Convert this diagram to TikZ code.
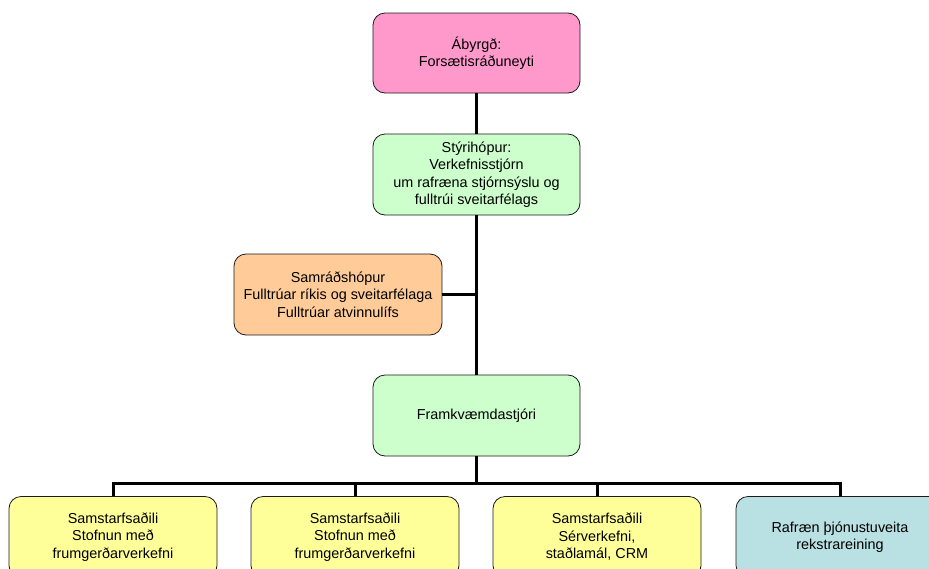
\documentclass[tikz,border=0pt]{standalone}
\usepackage{fontspec}
\setmainfont{Liberation Sans}
\definecolor{cpink}{HTML}{FF99CC}
\definecolor{cgreen}{HTML}{CCFFCC}
\definecolor{corange}{HTML}{FFCC99}
\definecolor{cyellow}{HTML}{FFFF99}
\definecolor{cteal}{HTML}{B9E0E2}
\definecolor{cedge}{HTML}{1A1A1A}
\begin{document}
\begin{tikzpicture}[x=1pt,y=-1pt,
  box/.style={draw=cedge, line width=0.8pt, rounded corners=12pt, minimum width=207pt, minimum height=81pt, align=center, inner sep=2pt, font=\fontsize{14.4}{17.5}\selectfont},
  conn/.style={line width=3pt, draw=black, line join=miter}]
\useasboundingbox (0,0) rectangle (929,568);
\clip (0,0) rectangle (929,568);
\node[box, fill=cpink, minimum height=80pt] (top) at (476.5,53) {Ábyrgð:\\Forsætisráðuneyti};
\node[box, fill=cgreen] (steer) at (476.5,174.5) {Stýrihópur:\\Verkefnisstjórn\\um rafræna stjórnsýslu og\\fulltrúi sveitarfélags};
\node[box, fill=corange, minimum width=208pt] (samrad) at (338,294.5) {Samráðshópur\\Fulltrúar ríkis og sveitarfélaga\\Fulltrúar atvinnulífs};
\node[box, fill=cgreen] (fram) at (476.5,415.5) {Framkvæmdastjóri};
\node[box, fill=cyellow, minimum width=208pt] (b1) at (113,537) {Samstarfsaðili\\Stofnun með\\frumgerðarverkefni};
\node[box, fill=cyellow, minimum width=208pt] (b2) at (355,537) {Samstarfsaðili\\Stofnun með\\frumgerðarverkefni};
\node[box, fill=cyellow, minimum width=208pt] (b3) at (597,537) {Samstarfsaðili\\Sérverkefni,\\staðlamál, CRM};
\node[box, fill=cteal, minimum width=208pt] (b4) at (840,537) {Rafræn þjónustuveita\\rekstrareining};
\coordinate (bus) at (476.5,483);
\draw[conn] (top) -- (steer);
\draw[conn] (steer) -- (fram);
\draw[conn] (samrad.east) -- (samrad.east -| steer.south);
\draw[conn] (fram.south) -- (bus);
\draw[conn] (b1.north) -- (b1.north |- bus) -- (b4.north |- bus) -- (b4.north);
\draw[conn] (b2.north) -- (b2.north |- bus);
\draw[conn] (b3.north) -- (b3.north |- bus);
\end{tikzpicture}
\end{document}
